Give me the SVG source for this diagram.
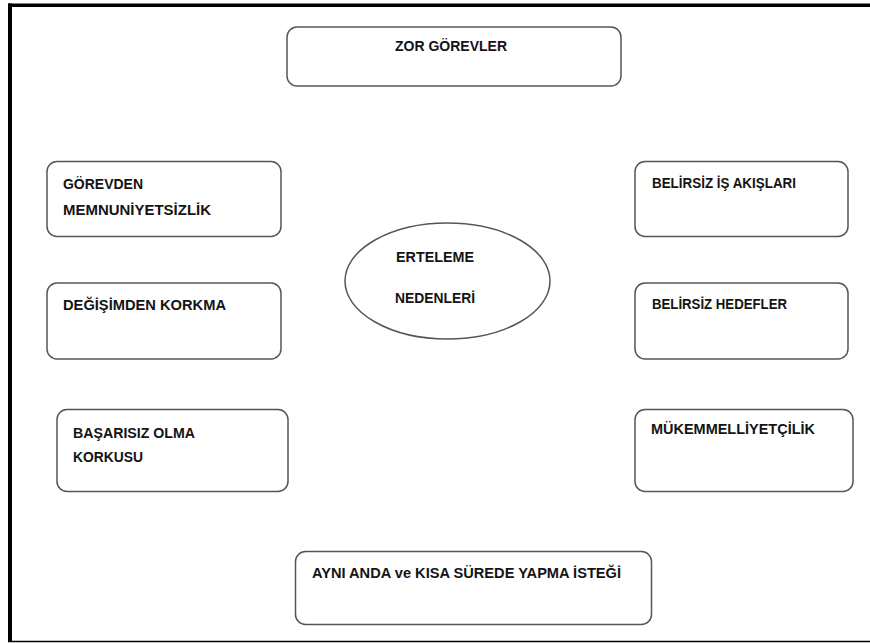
<svg xmlns="http://www.w3.org/2000/svg" width="870" height="643" viewBox="0 0 870 643">
<style>
.box{fill:#fff;stroke:#555;stroke-width:1.5}
.t{font-family:"Liberation Sans",Arial,sans-serif;font-weight:bold;font-size:14.5px;fill:#141414}
.frame{stroke:#000;fill:none}
</style>
<rect width="870" height="643" fill="#fff"/>
<g id="frame">
<line class="frame" x1="10" y1="3.5" x2="10" y2="642" stroke-width="4"/>
<line class="frame" x1="8" y1="5.2" x2="870" y2="5.2" stroke-width="3.5"/>
<line class="frame" x1="8" y1="641.5" x2="870" y2="641.5" stroke-width="1.5"/>
</g>
<g id="zor-gorevler">
<rect class="box" x="287" y="27" width="334" height="59" rx="10"/>
<text class="t" x="395" y="51" textLength="112" lengthAdjust="spacingAndGlyphs">ZOR GÖREVLER</text>
</g>
<g id="gorevden-memnuniyetsizlik">
<rect class="box" x="47" y="161.5" width="234" height="75" rx="10"/>
<text class="t" x="63" y="189" textLength="80" lengthAdjust="spacingAndGlyphs">GÖREVDEN</text>
<text class="t" x="63" y="215" textLength="148" lengthAdjust="spacingAndGlyphs">MEMNUNİYETSİZLİK</text>
</g>
<g id="degisimden-korkma">
<rect class="box" x="47" y="283" width="234" height="76" rx="10"/>
<text class="t" x="63" y="310" textLength="163" lengthAdjust="spacingAndGlyphs">DEĞİŞİMDEN KORKMA</text>
</g>
<g id="basarisiz-olma-korkusu">
<rect class="box" x="57" y="409.5" width="231" height="82" rx="10"/>
<text class="t" x="73" y="438" textLength="122" lengthAdjust="spacingAndGlyphs">BAŞARISIZ OLMA</text>
<text class="t" x="73" y="462" textLength="70" lengthAdjust="spacingAndGlyphs">KORKUSU</text>
</g>
<g id="belirsiz-is-akislari">
<rect class="box" x="635" y="161.5" width="213" height="75" rx="10"/>
<text class="t" x="652" y="188" textLength="144" lengthAdjust="spacingAndGlyphs">BELİRSİZ İŞ AKIŞLARI</text>
</g>
<g id="belirsiz-hedefler">
<rect class="box" x="635" y="283" width="213" height="76" rx="10"/>
<text class="t" x="652" y="309" textLength="135" lengthAdjust="spacingAndGlyphs">BELİRSİZ HEDEFLER</text>
</g>
<g id="mukemmeliyetcilik">
<rect class="box" x="635" y="409.5" width="218" height="82" rx="10"/>
<text class="t" x="651" y="434" textLength="164" lengthAdjust="spacingAndGlyphs">MÜKEMMELLİYETÇİLİK</text>
</g>
<g id="ayni-anda">
<rect class="box" x="295.5" y="551.5" width="356" height="73" rx="10"/>
<text class="t" x="312" y="578" textLength="309" lengthAdjust="spacingAndGlyphs">AYNI ANDA ve KISA SÜREDE YAPMA İSTEĞİ</text>
</g>
<g id="erteleme-nedenleri">
<ellipse class="box" cx="447.5" cy="281" rx="102.5" ry="58"/>
<text class="t" x="396" y="262" textLength="78" lengthAdjust="spacingAndGlyphs">ERTELEME</text>
<text class="t" x="395" y="303" textLength="80" lengthAdjust="spacingAndGlyphs">NEDENLERİ</text>
</g>
</svg>
